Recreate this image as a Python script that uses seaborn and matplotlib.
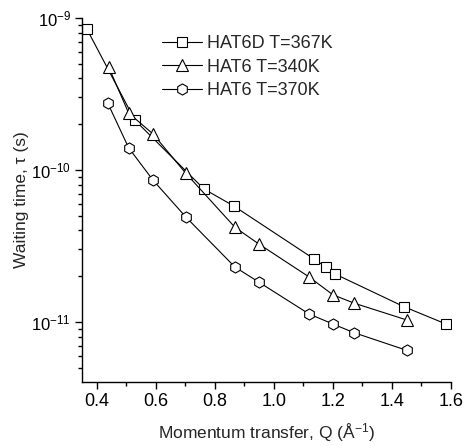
import matplotlib
matplotlib.use("Agg")
import matplotlib.pyplot as plt
import seaborn as sns
import numpy as np
import pandas as pd
from matplotlib.ticker import MultipleLocator, AutoMinorLocator, FixedLocator, NullFormatter

# Data
q_hat6d_367 = [0.366, 0.529, 0.763, 0.864, 1.136, 1.176, 1.207, 1.441, 1.583]
tau_hat6d_367 = [8.5e-10, 2.13e-10, 7.5e-11, 5.8e-11, 2.6e-11, 2.3e-11, 2.07e-11, 1.26e-11, 9.7e-12]

q_hat6_340 = [0.440, 0.508, 0.590, 0.702, 0.868, 0.949, 1.119, 1.200, 1.272, 1.451]
tau_hat6_340 = [4.77e-10, 2.37e-10, 1.73e-10, 9.5e-11, 4.2e-11, 3.26e-11, 1.98e-11, 1.51e-11, 1.33e-11, 1.03e-11]

q_hat6_370 = [0.437, 0.508, 0.590, 0.702, 0.868, 0.949, 1.119, 1.200, 1.272, 1.451]
tau_hat6_370 = [2.76e-10, 1.40e-10, 8.6e-11, 4.9e-11, 2.3e-11, 1.83e-11, 1.13e-11, 9.7e-12, 8.5e-12, 6.5e-12]

labels = ["HAT6D T=367K", "HAT6 T=340K", "HAT6 T=370K"]
markers = ["s", "^", "h"]
msizes = [6.8, 8.8, 8.0]

y_major = [1e-11, 1e-10, 1e-9]
y_minor = [m * 10.0 ** e for e in (-12, -11, -10) for m in range(2, 10)]

sns.set_theme(style="ticks")
plt.rcParams["font.family"] = ["Liberation Sans", "DejaVu Sans"]
plt.rcParams["mathtext.fontset"] = "custom"
plt.rcParams["mathtext.rm"] = "Liberation Sans"
plt.rcParams["mathtext.it"] = "Liberation Sans:italic"

fig = plt.figure(figsize=(4.71, 4.46), dpi=100)
ax = fig.add_axes([82 / 471, 1 - 382 / 446, (451 - 82) / 471, (382 - 18) / 446])

series = [(q_hat6d_367, tau_hat6d_367), (q_hat6_340, tau_hat6_340), (q_hat6_370, tau_hat6_370)]
for (q, t), lab, m, ms in zip(series, labels, markers, msizes):
    df = pd.DataFrame({"Q": q, "tau": t})
    sns.lineplot(data=df, x="Q", y="tau", ax=ax, color="black", linewidth=0.8,
                 marker=m, markersize=ms, markerfacecolor="white",
                 markeredgecolor="black", markeredgewidth=0.8, label=lab,
                 sort=False)

ax.set_yscale("log")
ax.set_xlim(0.35, 1.6)
ax.set_ylim(10 ** (-11 - 60 / 152), 1e-9)
ax.xaxis.set_major_locator(MultipleLocator(0.2))
ax.xaxis.set_minor_locator(AutoMinorLocator(2))
ax.yaxis.set_major_locator(FixedLocator(y_major))
ax.yaxis.set_minor_locator(FixedLocator(y_minor))
ax.yaxis.set_minor_formatter(NullFormatter())

for s in ["top", "right"]:
    ax.spines[s].set_visible(False)
for s in ["left", "bottom"]:
    ax.spines[s].set_linewidth(1.0)
    ax.spines[s].set_color("black")

ax.tick_params(axis="both", which="major", direction="out", length=5, width=1,
               colors="black", pad=3)
ax.tick_params(axis="x", which="major", labelsize=13)
ax.tick_params(axis="y", which="major", labelsize=12)
ax.tick_params(axis="both", which="minor", direction="out", length=3, width=1, colors="black")

ax.set_xlabel("Momentum transfer, Q (Å$^{-1}$)", fontsize=12.5, labelpad=8)
ax.set_ylabel("Waiting time, τ (s)", fontsize=12.5)
ax.yaxis.set_label_coords(-0.143, 0.5)

leg = ax.legend(loc="upper left", bbox_to_anchor=(162 / 471, 1 - 35 / 446),
                bbox_transform=fig.transFigure, frameon=False, fontsize=13,
                handlelength=2.2, handletextpad=0.3, labelspacing=0.36,
                borderpad=0, borderaxespad=0)

fig.savefig("out.png", dpi=100)
